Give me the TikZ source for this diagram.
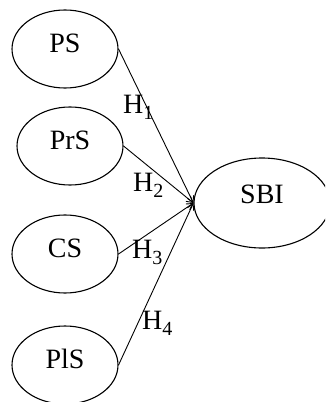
\documentclass[tikz,border=0pt]{standalone}
\usepackage{fontspec}
\setmainfont{Liberation Serif}
\usetikzlibrary{shapes.geometric,arrows.meta}
\newcommand{\hsub}[1]{H\raisebox{-6pt}{\fontsize{20}{22}\selectfont #1}}
\begin{document}
\begin{tikzpicture}[x=1pt,y=-1pt,
  construct/.style={draw,ellipse,line width=1.1pt,minimum width=106pt,minimum height=78pt,inner sep=0pt,
    text height=19pt,text depth=12pt,font=\fontsize{28}{32}\selectfont},
  hyp/.style={-{Straight Barb[length=6pt,width=7pt]},line width=0.9pt},
  hlab/.style={font=\fontsize{28}{32}\selectfont,inner sep=0pt,anchor=base west}]
\useasboundingbox (0,0) rectangle (325,402);
\clip (0,0) rectangle (325,402);
\node[construct] (PS) at (65,49) {PS};
\node[construct] (PrS) at (70,146) {PrS};
\node[construct] (CS) at (65,254) {CS};
\node[construct] (PlS) at (65,365) {PlS};
\node[construct,minimum width=136pt,minimum height=90pt,text depth=18pt] (SBI) at (262,203) {SBI};
\draw[hyp] (PS.east) -- (SBI.west);
\draw[hyp] (PrS.east) -- (SBI.west);
\draw[hyp] (CS.east) -- (SBI.west);
\draw[hyp] (PlS.east) -- (SBI.west);
\node[hlab] (h1) at (123,113) {\hsub{1}};
\node[hlab] (h2) at (133,191) {\hsub{2}};
\node[hlab] (h3) at (132,258) {\hsub{3}};
\node[hlab] (h4) at (142,329) {\hsub{4}};
\end{tikzpicture}
\end{document}
